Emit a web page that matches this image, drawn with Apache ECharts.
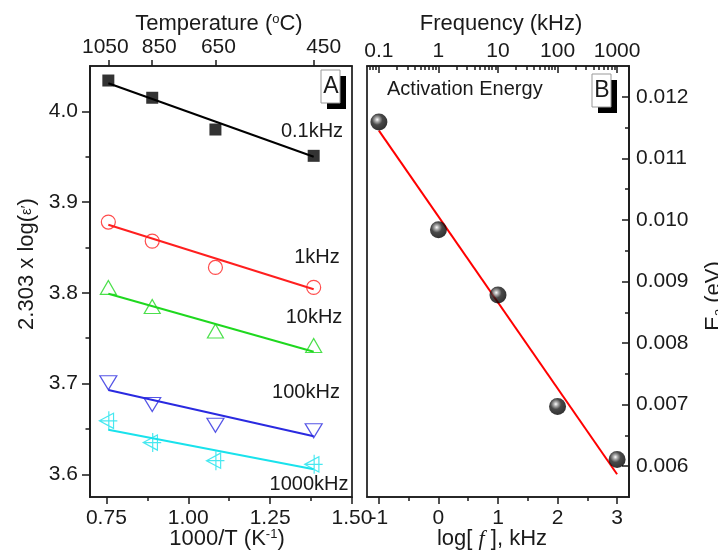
<!DOCTYPE html>
<html>
<head>
<meta charset="utf-8">
<script src="https://cdn.jsdelivr.net/npm/echarts@6/dist/echarts.min.js"></script>
<style>
  html, body { margin: 0; padding: 0; background: #fff; }
  #chart { width: 718px; height: 559px; }
</style>
</head>
<body>
<div id="chart"></div>
<script>
// ---------- Panel A: 2.303 log(eps') against 1000/T ----------
const tempC = [1050, 850, 650, 450];              // top-axis tick labels (°C)
const invT = [0.756, 0.890, 1.083, 1.383];        // 1000/T (K^-1) of each temperature
const eps01k = [4.034, 4.015, 3.980, 3.951];
const eps1k = [3.878, 3.857, 3.828, 3.806];
const eps10k = [3.806, 3.785, 3.758, 3.742];
const eps100k = [3.701, 3.677, 3.654, 3.648];
const eps1000k = [3.659, 3.635, 3.615, 3.611];
// linear fits: value at the first and last temperature
const fit01k = [4.031, 3.950];
const fit1k = [3.875, 3.804];
const fit10k = [3.799, 3.735];
const fit100k = [3.693, 3.642];
const fit1000k = [3.649, 3.6055];
const freqNames = ['0.1kHz', '1kHz', '10kHz', '100kHz', '1000kHz'];
const invTTicks = [0.75, 1.00, 1.25, 1.50];
const invTMinor = [0.875, 1.125, 1.375];
const epsTicks = [3.6, 3.7, 3.8, 3.9, 4.0];
const epsMinor = [3.65, 3.75, 3.85, 3.95];

// ---------- Panel B: activation energy against log frequency ----------
const logF = [-1, 0, 1, 2, 3];
const freqLabels = ['0.1', '1', '10', '100', '1000'];
const ea = [0.01159, 0.00984, 0.00878, 0.00697, 0.00611];
const eaFit = [0.01145, 0.00587];                  // fit at log f = -1 and 3
const logFTicks = [-1, 0, 1, 2, 3];
const logFMinor = [-0.5, 0.5, 1.5, 2.5];
const eaTicks = [0.006, 0.007, 0.008, 0.009, 0.010, 0.011, 0.012];
const eaMinor = [0.0065, 0.0075, 0.0085, 0.0095, 0.0105, 0.0115];

const FONT = '"Liberation Sans", Arial, Helvetica, sans-serif';
const INK = '#1a1a1a';
const A_MIN = 0.7, A_MAX = 1.5, EPS_MIN = 3.575, EPS_MAX = 4.05;
const B_MIN = -1.2, B_MAX = 3.2, EA_MIN = 0.0055, EA_MAX = 0.0125;

// log-spaced minor ticks of the frequency axis (2..9 within each decade)
const logMinor = [];
for (let d = -2; d <= 3; d++) {
  for (let m = 2; m <= 9; m++) {
    const p = d + Math.log10(m);
    if (p > B_MIN && p < B_MAX) logMinor.push(p);
  }
}

const lineStyle = { color: INK, width: 1.7 };
const tickStyle = { color: INK, width: 1.5 };
const labelFont = { fontFamily: FONT, fontSize: 21, color: INK };

function majorAxis(extra) {
  return Object.assign({
    type: 'value',
    splitLine: { show: false },
    axisLine: { show: true, onZero: false, lineStyle: lineStyle }
  }, extra);
}
function minorAxis(extra) {
  return Object.assign({
    type: 'value',
    splitLine: { show: false },
    axisLine: { show: false, onZero: false },
    axisLabel: { show: false }
  }, extra);
}

// temperature labels sit slightly off their ticks
const tempShift = { t0: [0, 6, 0, 0], t1: [0, 0, 0, 14], t2: [0, 0, 0, 6], t3: [0, 0, 0, 20] };
const tempRich = {};
Object.keys(tempShift).forEach(k => {
  tempRich[k] = { fontFamily: FONT, fontSize: 21, color: INK, padding: tempShift[k] };
});

const xAxes = [
  // 0: panel A bottom
  majorAxis({ gridIndex: 0, position: 'bottom', min: A_MIN, max: A_MAX,
    axisTick: { show: true, inside: false, length: 7, lineStyle: tickStyle, customValues: invTTicks },
    axisLabel: Object.assign({ margin: 11, customValues: invTTicks, formatter: v => v.toFixed(2) }, labelFont) }),
  // 1: panel A bottom minor ticks
  minorAxis({ gridIndex: 0, position: 'bottom', min: A_MIN, max: A_MAX,
    axisTick: { show: true, inside: false, length: 4, lineStyle: tickStyle, customValues: invTMinor } }),
  // 2: panel A top (temperature)
  majorAxis({ gridIndex: 0, position: 'top', min: A_MIN, max: A_MAX,
    axisTick: { show: true, inside: false, length: 6, lineStyle: tickStyle, customValues: invT },
    axisLabel: Object.assign({ margin: 8, customValues: invT, rich: tempRich,
      formatter: v => { const i = invT.indexOf(v); return '{t' + i + '|' + tempC[i] + '}'; } }, labelFont) }),
  // 3: panel B bottom
  majorAxis({ gridIndex: 1, position: 'bottom', min: B_MIN, max: B_MAX,
    axisTick: { show: true, inside: false, length: 7, lineStyle: tickStyle, customValues: logFTicks },
    axisLabel: Object.assign({ margin: 11, customValues: logFTicks, formatter: v => String(v) }, labelFont) }),
  // 4: panel B bottom minor ticks
  minorAxis({ gridIndex: 1, position: 'bottom', min: B_MIN, max: B_MAX,
    axisTick: { show: true, inside: false, length: 4, lineStyle: tickStyle, customValues: logFMinor } }),
  // 5: panel B top (frequency)
  majorAxis({ gridIndex: 1, position: 'top', min: B_MIN, max: B_MAX,
    axisTick: { show: true, inside: true, length: 7, lineStyle: tickStyle, customValues: logFTicks },
    axisLabel: Object.assign({ margin: 4, customValues: logFTicks,
      formatter: v => freqLabels[logFTicks.indexOf(v)] }, labelFont) }),
  // 6: panel B top log minor ticks
  minorAxis({ gridIndex: 1, position: 'top', min: B_MIN, max: B_MAX,
    axisTick: { show: true, inside: true, length: 4, lineStyle: tickStyle, customValues: logMinor } })
];

const yAxes = [
  // 0: panel A left
  majorAxis({ gridIndex: 0, position: 'left', min: EPS_MIN, max: EPS_MAX,
    axisTick: { show: true, inside: false, length: 8, lineStyle: tickStyle, customValues: epsTicks },
    axisLabel: Object.assign({ margin: 12, customValues: epsTicks, formatter: v => v.toFixed(1) }, labelFont) }),
  // 1: panel A left minor ticks
  minorAxis({ gridIndex: 0, position: 'left', min: EPS_MIN, max: EPS_MAX,
    axisTick: { show: true, inside: false, length: 4.5, lineStyle: tickStyle, customValues: epsMinor } }),
  // 2: panel B right
  majorAxis({ gridIndex: 1, position: 'right', min: EA_MIN, max: EA_MAX,
    axisTick: { show: true, inside: true, length: 7, lineStyle: tickStyle, customValues: eaTicks },
    axisLabel: Object.assign({ margin: 7, customValues: eaTicks, formatter: v => v.toFixed(3) }, labelFont) }),
  // 3: panel B right minor ticks
  minorAxis({ gridIndex: 1, position: 'right', min: EA_MIN, max: EA_MAX,
    axisTick: { show: true, inside: true, length: 4, lineStyle: tickStyle, customValues: eaMinor } })
];

// left-pointing triangle with a cross through it
const LEFT_TRI_CROSS = 'path://M0,10 L15,2 L15,18 Z M0,10 L19,10 M10,0 L10,20';

const groupsA = [
  { y: eps01k, fit: fit01k, color: '#000000', symbol: 'rect', size: 12, filled: true },
  { y: eps1k, fit: fit1k, color: '#ff1f1f', symbol: 'circle', size: 14 },
  { y: eps10k, fit: fit10k, color: '#1fd81f', symbol: 'triangle', size: [16, 14] },
  { y: eps100k, fit: fit100k, color: '#2a2ae0', symbol: 'triangle', size: [17, 14], rotate: 180 },
  { y: eps1000k, fit: fit1000k, color: '#19e2ec', symbol: LEFT_TRI_CROSS, size: [18, 19] }
];

const series = [];
groupsA.forEach((g, k) => {
  series.push({
    name: freqNames[k] + ' fit', type: 'line', xAxisIndex: 0, yAxisIndex: 0,
    data: [[invT[0], g.fit[0]], [invT[invT.length - 1], g.fit[1]]],
    symbol: 'none', silent: true, z: 2,
    lineStyle: { color: g.color, width: 2 }
  });
  series.push({
    name: freqNames[k], type: 'scatter', xAxisIndex: 0, yAxisIndex: 0,
    data: invT.map((x, i) => [x, g.y[i]]),
    symbol: g.symbol, symbolSize: g.size, symbolRotate: g.rotate || 0, z: 3,
    itemStyle: g.filled
      ? { color: g.color }
      : { color: 'rgba(0,0,0,0)', borderColor: g.color, borderWidth: 1.2 }
  });
});
series.push({
  name: 'Ea fit', type: 'line', xAxisIndex: 3, yAxisIndex: 2,
  data: [[logF[0], eaFit[0]], [logF[logF.length - 1], eaFit[1]]],
  symbol: 'none', silent: true, z: 2,
  lineStyle: { color: '#ff0000', width: 2 }
});
series.push({
  name: 'Activation Energy', type: 'scatter', xAxisIndex: 3, yAxisIndex: 2,
  data: logF.map((x, i) => [x, ea[i]]),
  symbol: 'circle', symbolSize: 17, z: 3,
  itemStyle: {
    color: {
      type: 'radial', x: 0.4, y: 0.36, r: 0.62,
      colorStops: [
        { offset: 0, color: '#ffffff' },
        { offset: 0.2, color: '#9a9a9a' },
        { offset: 0.5, color: '#1c1c1c' },
        { offset: 1, color: '#000000' }
      ]
    }
  }
});

function txt(x, y, text, size, extra) {
  return Object.assign({
    type: 'text', x: x, y: y, silent: true, z: 10,
    style: Object.assign({ text: text, fontFamily: FONT, fontSize: size, fill: INK,
      align: 'center', verticalAlign: 'middle' }, (extra && extra.style) || {})
  }, extra && extra.rotation !== undefined ? { rotation: extra.rotation } : {});
}
function panelTag(x, y, letter) {
  return [
    { type: 'rect', shape: { x: x + 6, y: y + 6, width: 19, height: 33 }, style: { fill: '#000' }, z: 8, silent: true },
    { type: 'rect', shape: { x: x, y: y, width: 19, height: 33 }, style: { fill: '#fff', stroke: '#999', lineWidth: 1 }, z: 9, silent: true },
    txt(x + 10, y + 17, letter, 23)
  ];
}

const titleRich = {
  a: { fontFamily: FONT, fontSize: 22, color: INK },
  sup: { fontFamily: FONT, fontSize: 13, color: INK, verticalAlign: 'top' },
  sub: { fontFamily: FONT, fontSize: 13, color: INK, verticalAlign: 'bottom' },
  eps: { fontFamily: FONT, fontSize: 15, color: INK },
  it: { fontFamily: '"Liberation Serif", "Times New Roman", serif', fontStyle: 'italic', fontSize: 22, color: INK }
};
function richTxt(x, y, text, rotation) {
  const el = {
    type: 'text', x: x, y: y, silent: true, z: 10,
    style: { text: text, rich: titleRich, fontFamily: FONT, fontSize: 22, fill: INK,
      align: 'center', verticalAlign: 'middle' }
  };
  if (rotation) el.rotation = rotation;
  return el;
}

const graphics = [
  richTxt(219, 24, '{a|Temperature (}{sup|o}{a|C)}'),
  richTxt(501, 24, '{a|Frequency (kHz)}'),
  richTxt(227, 539, '{a|1000/T (K}{sup|-1}{a|)}'),
  richTxt(492, 539, '{a|log[ }{it|f}{a| ], kHz}'),
  richTxt(27, 264, '{a|2.303 x log(}{eps|ε′}{a|)}', Math.PI / 2),
  richTxt(714, 296, '{a|E}{sub|a}{a| (eV)}', Math.PI / 2),
  txt(312, 131, freqNames[0], 20),
  txt(317, 257, freqNames[1], 20),
  txt(314, 317, freqNames[2], 20),
  txt(306, 392, freqNames[3], 20),
  txt(309, 484, freqNames[4], 20),
  txt(387, 89, 'Activation Energy', 20, { style: { align: 'left' } })
].concat(panelTag(321, 70, 'A'), panelTag(592, 74, 'B'));

const chart = echarts.init(document.getElementById('chart'), null, { renderer: 'canvas' });
chart.setOption({
  animation: false,
  backgroundColor: '#ffffff',
  grid: [
    { left: 90, top: 66, width: 262, height: 431, show: true, borderColor: INK, borderWidth: 1.7, backgroundColor: 'transparent' },
    { left: 367, top: 66, width: 262, height: 431, show: true, borderColor: INK, borderWidth: 1.7, backgroundColor: 'transparent' }
  ],
  xAxis: xAxes,
  yAxis: yAxes,
  series: series,
  graphic: graphics
});
</script>
</body>
</html>
